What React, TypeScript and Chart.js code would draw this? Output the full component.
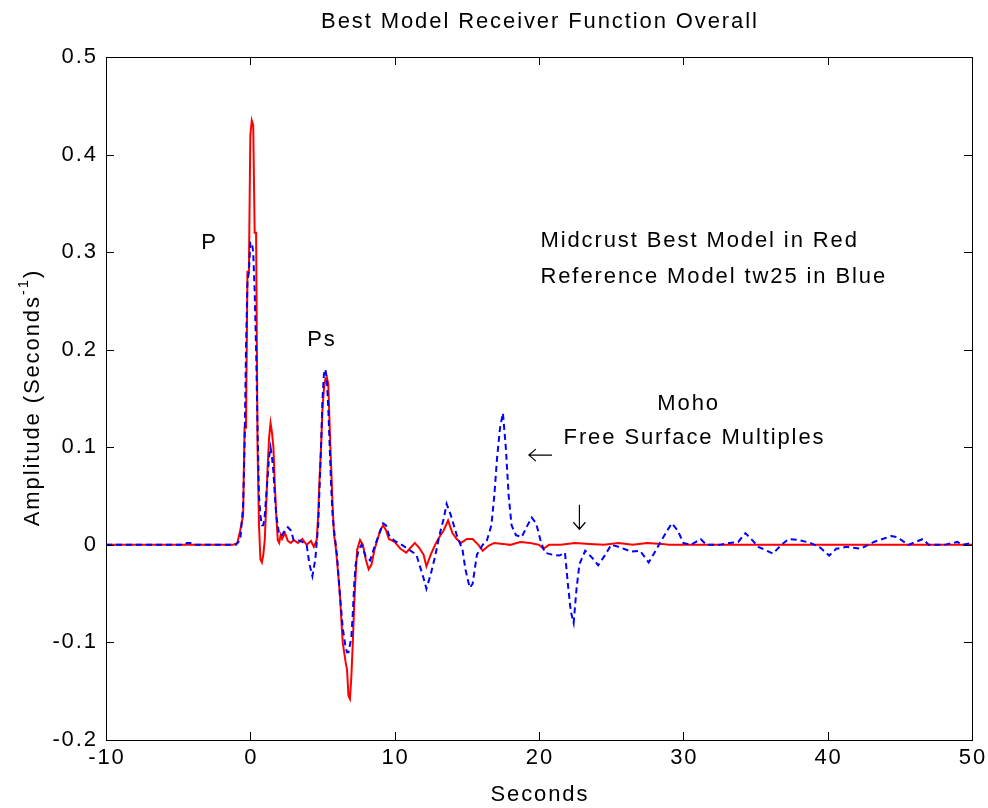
import React, { useEffect, useRef } from "react";
import { Chart, registerables } from "chart.js";

Chart.register(...registerables);

const redT = [-10, -1.2, -0.9, -0.7, -0.5, -0.4, -0.3, -0.2, -0.1, 0.0, 0.1, 0.2, 0.3, 0.4, 0.5, 0.6, 0.7, 0.8, 0.9, 1.0, 1.1, 1.2, 1.3, 1.4, 1.5, 1.6, 1.7, 1.8, 1.9, 2.0, 2.1, 2.2, 2.4, 2.6, 2.8, 3.0, 3.3, 3.6, 3.9, 4.2, 4.4, 4.6, 4.7, 4.8, 4.9, 5.0, 5.1, 5.2, 5.3, 5.4, 5.5, 5.6, 5.7, 5.8, 5.9, 6.0, 6.2, 6.4, 6.6, 6.7, 6.8, 6.9, 7.0, 7.1, 7.2, 7.3, 7.4, 7.6, 7.8, 8.0, 8.2, 8.4, 8.6, 8.8, 9.0, 9.2, 9.4, 9.6, 10.0, 10.4, 10.8, 11.1, 11.4, 11.7, 12.0, 12.2, 12.5, 12.8, 13.1, 13.4, 13.7, 14.0, 14.3, 14.6, 15.0, 15.4, 15.8, 16.1, 16.5, 16.9, 17.5, 18.0, 18.7, 19.4, 20.0, 20.3, 20.7, 21.5, 22.5, 23.5, 24.5, 25.5, 26.5, 27.5, 28.5, 29.0, 50];
const redA = [0, 0, 0.002, 0.015, 0.03, 0.12, 0.12, 0.28, 0.28, 0.42, 0.435, 0.43, 0.32, 0.32, 0.1, 0.02, -0.015, -0.018, -0.01, 0.005, 0.04, 0.08, 0.11, 0.125, 0.115, 0.1, 0.06, 0.03, 0.005, 0.002, 0.01, 0.006, 0.012, 0.004, 0.002, 0.005, 0.002, 0.006, 0.0, 0.004, -0.002, 0.005, 0.03, 0.07, 0.1, 0.14, 0.16, 0.17, 0.172, 0.165, 0.12, 0.08, 0.04, 0.01, 0.0, -0.015, -0.05, -0.1, -0.12, -0.128, -0.155, -0.158, -0.135, -0.1, -0.06, -0.03, -0.005, 0.005, 0.0, -0.015, -0.025, -0.02, -0.005, 0.005, 0.015, 0.02, 0.015, 0.006, 0.003, -0.004, -0.008, -0.003, 0.002, -0.003, -0.01, -0.022, -0.01, 0.0, 0.008, 0.015, 0.025, 0.012, 0.006, 0.002, 0.006, 0.006, 0.0, -0.006, -0.001, 0.002, 0.001, 0.0, 0.003, 0.002, 0.0, -0.004, 0.0, 0.0, 0.002, 0.001, 0.0, 0.002, 0.0, 0.002, 0.001, 0, 0];

const blueT = [-10, -4.6, -4.4, -4.0, -3.8, -1.0, -0.7, -0.5, -0.4, -0.3, -0.2, -0.1, 0.0, 0.1, 0.2, 0.3, 0.4, 0.5, 0.6, 0.7, 0.8, 0.9, 1.0, 1.1, 1.2, 1.3, 1.4, 1.5, 1.6, 1.7, 1.8, 2.0, 2.2, 2.4, 2.6, 2.8, 3.0, 3.3, 3.6, 3.9, 4.1, 4.3, 4.5, 4.7, 4.8, 4.9, 5.0, 5.1, 5.2, 5.3, 5.4, 5.5, 5.6, 5.7, 5.8, 6.0, 6.2, 6.4, 6.6, 6.7, 6.8, 7.0, 7.1, 7.2, 7.3, 7.5, 7.7, 8.0, 8.3, 8.6, 8.9, 9.2, 9.4, 9.6, 10.0, 10.5, 11.0, 11.5, 12.0, 12.2, 12.5, 12.8, 13.1, 13.4, 13.6, 13.9, 14.3, 14.7, 14.9, 15.2, 15.4, 15.7, 16.1, 16.4, 16.7, 16.9, 17.1, 17.3, 17.5, 17.7, 17.9, 18.1, 18.4, 18.8, 19.2, 19.5, 19.8, 20.1, 20.4, 20.9, 21.4, 21.8, 22.0, 22.2, 22.4, 22.6, 22.8, 23.2, 23.8, 24.1, 24.6, 25.0, 25.5, 26.4, 27.0, 27.6, 28.0, 28.5, 28.9, 29.2, 29.6, 30.0, 30.5, 31.2, 31.6, 32.5, 33.2, 33.8, 34.3, 34.7, 35.2, 36.2, 36.8, 37.3, 38.0, 38.8, 39.5, 40.1, 40.6, 41.3, 42.3, 43.2, 44.4, 44.8, 45.6, 46.6, 47.0, 48.1, 49.0, 49.3, 50];
const blueA = [0, 0, 0.002, 0.002, 0, 0, 0.005, 0.04, 0.1, 0.2, 0.27, 0.28, 0.31, 0.31, 0.3, 0.26, 0.2, 0.12, 0.05, 0.03, 0.02, 0.02, 0.03, 0.05, 0.07, 0.09, 0.1, 0.09, 0.075, 0.05, 0.03, 0.01, 0.01, 0.015, 0.018, 0.015, 0.005, 0.005, 0.003, 0.0, -0.02, -0.032, -0.015, 0.02, 0.06, 0.1, 0.15, 0.175, 0.18, 0.17, 0.14, 0.1, 0.06, 0.03, 0.015, -0.01, -0.05, -0.085, -0.105, -0.11, -0.11, -0.095, -0.07, -0.04, -0.02, -0.005, 0.0, -0.012, -0.016, -0.002, 0.01, 0.022, 0.02, 0.01, 0.004, 0.0, -0.005, -0.01, -0.034, -0.045, -0.03, -0.012, 0.01, 0.027, 0.042, 0.03, 0.01, -0.005, -0.025, -0.044, -0.04, -0.01, 0.0, 0.005, 0.02, 0.05, 0.09, 0.12, 0.135, 0.1, 0.05, 0.02, 0.01, 0.008, 0.02, 0.028, 0.022, 0.005, -0.008, -0.01, -0.011, -0.008, -0.04, -0.068, -0.08, -0.045, -0.02, -0.006, -0.015, -0.021, -0.01, 0.0, -0.002, -0.007, -0.006, -0.018, -0.008, 0.005, 0.015, 0.022, 0.015, 0.002, 0.0, 0.006, 0.0, 0.0, 0.002, 0.003, 0.012, 0.006, -0.002, -0.009, 0.0, 0.006, 0.005, 0.002, -0.003, -0.011, -0.004, -0.002, -0.004, 0.003, 0.009, 0.008, 0.0, 0.006, 0.0, 0.0, 0.003, 0.0, 0.002];

const xTicks = [-10, 0, 10, 20, 30, 40, 50];
const yTicks = [-0.2, -0.1, 0, 0.1, 0.2, 0.3, 0.4, 0.5];
const yTickLabels = ["-0.2", "-0.1", "0", "0.1", "0.2", "0.3", "0.4", "0.5"];
const xTickLabels = ["-10", "0", "10", "20", "30", "40", "50"];

const titleText = "Best Model Receiver Function Overall";
const xLabel = "Seconds";
const yLabelMain = "Amplitude (Seconds";
const yLabelSup = "-1";
const yLabelEnd = ")";

// annotations: [text, x (s), y (amplitude), align]
const notes: [string, number, number, string][] = [
  ["P", -2.9, 0.309, "center"],
  ["Ps", 4.9, 0.21, "center"],
  ["Midcrust Best Model in Red", 20.1, 0.311, "left"],
  ["Reference Model tw25 in Blue", 20.1, 0.275, "left"],
  ["Moho", 30.3, 0.144, "center"],
  ["Free Surface Multiples", 21.7, 0.11, "left"],
];

const FONT = '"Liberation Sans", Arial, Helvetica, sans-serif';
const FS = 22;
const LS = 1.9;

function drawText(ctx: CanvasRenderingContext2D, s: string, x: number, y: number, align: string, size = FS) {
  ctx.font = `${size}px ${FONT}`;
  (ctx as any).letterSpacing = `${LS}px`;
  ctx.textAlign = "left";
  ctx.textBaseline = "middle";
  const w = ctx.measureText(s).width - LS;
  let left = x;
  if (align === "center") left = x - w / 2;
  else if (align === "right") left = x - w;
  ctx.fillText(s, left, y);
  return w;
}

const overlay = {
  id: "matlabOverlay",
  afterDraw(chart: any) {
    const { ctx, chartArea: a, scales } = chart;
    const xs = scales.x;
    const ys = scales.y;
    ctx.save();
    ctx.strokeStyle = "#000";
    ctx.fillStyle = "#000";
    ctx.lineWidth = 1;
    ctx.strokeRect(Math.round(a.left) + 0.5, Math.round(a.top) + 0.5, Math.round(a.right - a.left), Math.round(a.bottom - a.top));
    const tl = 8;
    ctx.beginPath();
    xTicks.forEach((v) => {
      const px = Math.round(xs.getPixelForValue(v)) + 0.5;
      ctx.moveTo(px, a.bottom);
      ctx.lineTo(px, a.bottom - tl);
      ctx.moveTo(px, a.top);
      ctx.lineTo(px, a.top + tl);
    });
    yTicks.forEach((v) => {
      const py = Math.round(ys.getPixelForValue(v)) + 0.5;
      ctx.moveTo(a.left, py);
      ctx.lineTo(a.left + tl, py);
      ctx.moveTo(a.right, py);
      ctx.lineTo(a.right - tl, py);
    });
    ctx.stroke();

    xTicks.forEach((v, i) => {
      drawText(ctx, xTickLabels[i], xs.getPixelForValue(v), a.bottom + 18, "center");
    });
    yTicks.forEach((v, i) => {
      drawText(ctx, yTickLabels[i], a.left - 10, ys.getPixelForValue(v), "right");
    });

    drawText(ctx, titleText, (a.left + a.right) / 2, 22, "center");
    drawText(ctx, xLabel, (a.left + a.right) / 2, a.bottom + 55, "center");

    // y label rotated with superscript
    ctx.save();
    ctx.translate(33, (a.top + a.bottom) / 2);
    ctx.rotate(-Math.PI / 2);
    ctx.font = `${FS}px ${FONT}`;
    (ctx as any).letterSpacing = `${LS}px`;
    const w1 = ctx.measureText(yLabelMain).width;
    ctx.font = `15px ${FONT}`;
    const w2 = ctx.measureText(yLabelSup).width;
    ctx.font = `${FS}px ${FONT}`;
    const w3 = ctx.measureText(yLabelEnd).width - LS;
    const total = w1 + w2 + w3;
    let cx = -total / 2;
    ctx.textAlign = "left";
    ctx.textBaseline = "middle";
    ctx.fillText(yLabelMain, cx, 0);
    cx += w1;
    ctx.font = `15px ${FONT}`;
    ctx.fillText(yLabelSup, cx, -9);
    cx += w2;
    ctx.font = `${FS}px ${FONT}`;
    ctx.fillText(yLabelEnd, cx, 0);
    ctx.restore();

    notes.forEach(([s, x, y, al]) => {
      drawText(ctx, s, xs.getPixelForValue(x), ys.getPixelForValue(y), al);
    });

    // left arrow
    ctx.lineWidth = 1.2;
    ctx.beginPath();
    const ax0 = xs.getPixelForValue(19.3);
    const ax1 = xs.getPixelForValue(20.9);
    const ay = ys.getPixelForValue(0.092);
    ctx.moveTo(ax1, ay);
    ctx.lineTo(ax0, ay);
    ctx.moveTo(ax0 + 7, ay - 6);
    ctx.lineTo(ax0, ay);
    ctx.lineTo(ax0 + 7, ay + 6);
    // down arrow
    const dx = xs.getPixelForValue(22.8);
    const dy0 = ys.getPixelForValue(0.041);
    const dy1 = ys.getPixelForValue(0.016);
    ctx.moveTo(dx, dy0);
    ctx.lineTo(dx, dy1);
    ctx.moveTo(dx - 6, dy1 - 7);
    ctx.lineTo(dx, dy1);
    ctx.lineTo(dx + 6, dy1 - 7);
    ctx.stroke();
    ctx.restore();
  },
};

export default function App() {
  const ref = useRef<HTMLCanvasElement | null>(null);
  useEffect(() => {
    if (!ref.current) return;
    const chart = new Chart(ref.current, {
      type: "line",
      data: {
        datasets: [
          {
            label: "Reference Model tw25",
            data: blueT.map((t, i) => ({ x: t, y: blueA[i] })),
            borderColor: "#0000ff",
            borderWidth: 2,
            borderDash: [6, 4],
            pointRadius: 0,
            tension: 0,
            fill: false,
          },
          {
            label: "Midcrust Best Model",
            data: redT.map((t, i) => ({ x: t, y: redA[i] })),
            borderColor: "#ff0000",
            borderWidth: 2,
            pointRadius: 0,
            tension: 0,
            fill: false,
          },
        ],
      },
      options: {
        animation: false,
        responsive: false,
        devicePixelRatio: 1,
        layout: { padding: { left: 0, top: 57, right: 16, bottom: 0 } },
        plugins: { legend: { display: false }, tooltip: { enabled: false }, title: { display: false } },
        scales: {
          x: {
            type: "linear",
            min: -10,
            max: 50,
            grid: { display: false, drawTicks: false },
            border: { display: false },
            ticks: { display: false },
            afterFit: (s: any) => { s.height = 68; },
          },
          y: {
            type: "linear",
            min: -0.2,
            max: 0.5,
            grid: { display: false, drawTicks: false },
            border: { display: false },
            ticks: { display: false },
            afterFit: (s: any) => { s.width = 106; },
          },
        },
      },
      plugins: [overlay],
    });
    return () => chart.destroy();
  }, []);
  return (
    <div style={{ position: "fixed", left: 0, top: 0, width: 988, height: 808, background: "#fff" }}>
      <canvas ref={ref} width={988} height={808} />
    </div>
  );
}
